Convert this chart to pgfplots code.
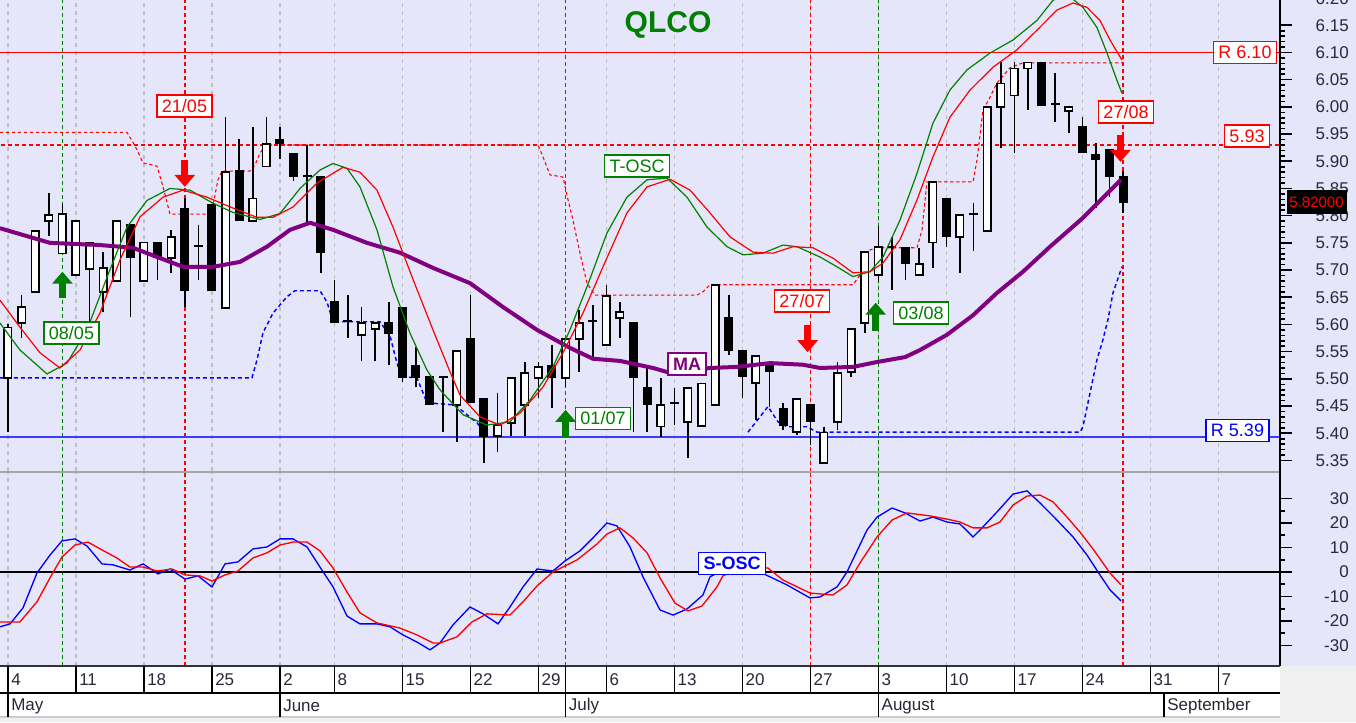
\documentclass[border=0pt]{standalone}
\usepackage{pgfplots}
\pgfplotsset{compat=1.18}
\usepackage{pgfplotstable}
\usepackage{fontspec}
\setmainfont{Liberation Sans}
\usetikzlibrary{arrows.meta}
\definecolor{bgl}{RGB}{230,230,250}
\definecolor{grn}{RGB}{0,128,0}
\definecolor{rd}{RGB}{255,0,0}
\definecolor{bl}{RGB}{0,0,255}
\definecolor{lbl}{RGB}{60,60,255}
\definecolor{pur}{RGB}{128,0,128}
\definecolor{gridg}{RGB}{190,190,190}
\definecolor{txt}{RGB}{40,40,55}
\definecolor{stripbg}{RGB}{240,240,240}
\newcommand{\fs}[1]{\fontsize{#1}{#1}\selectfont}
\newcommand{\pxy}[2]{(#1*0.75pt,-#2*0.75pt)}

% white (rising) candles: i open high low close
\pgfplotstableread{
i o h l c
0 5.502 5.600 5.402 5.594
1 5.603 5.654 5.575 5.632
2 5.660 5.772 5.660 5.772
3 5.790 5.842 5.763 5.801
4 5.731 5.821 5.731 5.803
5 5.691 5.790 5.691 5.790
6 5.702 5.751 5.605 5.751
7 5.660 5.733 5.623 5.704
8 5.680 5.790 5.680 5.790
10 5.680 5.751 5.680 5.751
12 5.722 5.774 5.695 5.761
16 5.630 5.981 5.630 5.880
18 5.790 5.963 5.790 5.832
19 5.890 5.981 5.890 5.932
26 5.581 5.632 5.533 5.603
27 5.592 5.603 5.533 5.603
33 5.452 5.551 5.384 5.551
36 5.395 5.474 5.366 5.415
37 5.419 5.502 5.395 5.502
38 5.452 5.531 5.395 5.511
39 5.502 5.531 5.465 5.522
41 5.502 5.573 5.485 5.573
42 5.573 5.627 5.513 5.603
44 5.562 5.673 5.562 5.652
45 5.612 5.641 5.575 5.623
48 5.412 5.502 5.393 5.452
50 5.421 5.483 5.355 5.483
51 5.413 5.492 5.413 5.492
52 5.452 5.673 5.452 5.673
55 5.492 5.542 5.424 5.542
58 5.402 5.463 5.397 5.463
60 5.345 5.412 5.345 5.401
61 5.421 5.531 5.406 5.511
62 5.513 5.592 5.504 5.592
63 5.603 5.733 5.584 5.733
64 5.691 5.781 5.678 5.743
67 5.691 5.741 5.691 5.711
68 5.751 5.862 5.704 5.862
70 5.761 5.801 5.695 5.801
72 5.772 6.000 5.772 6.000
73 6.000 6.082 5.925 6.043
74 6.021 6.082 5.916 6.071
75 6.071 6.082 5.994 6.082
78 5.992 6.000 5.952 6.000
}\wht

% black (falling) candles and dojis: i open high low close
\pgfplotstableread{
i o h l c
9 5.783 5.783 5.614 5.724
11 5.751 5.751 5.682 5.724
13 5.812 5.832 5.632 5.663
14 5.744 5.783 5.682 5.744
15 5.821 5.821 5.663 5.663
17 5.882 5.941 5.792 5.792
20 5.940 5.963 5.904 5.934
21 5.913 5.913 5.864 5.873
22 5.873 5.930 5.788 5.873
23 5.871 5.871 5.695 5.733
24 5.641 5.682 5.605 5.605
25 5.606 5.654 5.575 5.606
28 5.603 5.641 5.526 5.584
29 5.630 5.630 5.494 5.504
30 5.524 5.559 5.485 5.504
31 5.504 5.504 5.453 5.453
32 5.504 5.504 5.402 5.504
34 5.573 5.654 5.458 5.458
35 5.463 5.463 5.345 5.395
40 5.524 5.562 5.446 5.504
43 5.606 5.636 5.535 5.606
46 5.603 5.603 5.402 5.504
47 5.483 5.525 5.402 5.454
49 5.456 5.483 5.415 5.456
53 5.612 5.654 5.544 5.553
54 5.551 5.551 5.465 5.504
56 5.525 5.525 5.448 5.514
57 5.445 5.456 5.406 5.415
59 5.452 5.452 5.379 5.423
65 5.743 5.761 5.663 5.743
66 5.741 5.741 5.682 5.713
69 5.832 5.832 5.743 5.763
71 5.804 5.823 5.735 5.804
76 6.082 6.082 6.003 6.003
77 6.005 6.062 5.972 6.005
79 5.963 5.981 5.916 5.916
80 5.912 5.934 5.814 5.904
81 5.921 5.921 5.834 5.873
82 5.871 5.882 5.805 5.825
}\blk

\pgfplotsset{
  base/.style={
    scale only axis, width=960pt, anchor=north west,
    xmin=-0.588, xmax=93.53,
    axis line style={draw=none},
    xtick={0,5,10,15,20,24,29,34,39,44,49,54,59,64,69,74,79,84,89},
    xticklabels={}, x tick style={draw=none},
    xmajorgrids, major x grid style={gridg, line width=1pt, dash pattern=on 3pt off 3pt},
    ytick pos=right, yticklabel pos=right, tick align=outside,
    y tick style={black, line width=1.2pt},
    major tick length=9pt, minor tick length=3.75pt,
    yticklabel style={font=\fs{12.75pt}, text=txt, anchor=east, inner sep=0pt, xshift=42.75pt,
      /pgf/number format/assume math mode=true},
    clip mode=individual,
  },
  sig/.style={line width=1.1pt, dash pattern=on 3pt off 2.25pt},
}
\tikzset{lab/.style={draw=#1, text=#1, fill=white, line width=1.1pt, font=\fs{13.5pt}, inner xsep=3.75pt, inner ysep=0pt, minimum height=16.5pt}}

\begin{document}
\begin{tikzpicture}
\useasboundingbox (0,0) rectangle (1017pt,-541.5pt);
\clip (0,0) rectangle (1017pt,-541.5pt);
\fill[bgl] (0,0) rectangle (1017pt,-541.5pt);
\fill[stripbg] \pxy{0}{666} rectangle \pxy{1356}{722};

% ===== main price panel =====
\begin{axis}[base, at={(0pt,0pt)}, height=353.25pt,
  ymin=5.3306, ymax=6.1965,
  ytick={5.35,5.40,5.45,5.50,5.55,5.60,5.65,5.70,5.75,5.80,5.85,5.90,5.95,6.00,6.05,6.10,6.15},
  minor y tick num=4,
  yticklabel style={/pgf/number format/fixed, /pgf/number format/fixed zerofill, /pgf/number format/precision=2}]
% signal verticals
\addplot[grn, sig] coordinates {(4,5.2) (4,6.3)};
\addplot[grn, sig] coordinates {(41,5.2) (41,6.3)};
\addplot[grn, sig] coordinates {(64,5.2) (64,6.3)};
\addplot[rd, sig] coordinates {(13,5.2) (13,6.3)};
\addplot[rd, sig] coordinates {(59,5.2) (59,6.3)};
\addplot[rd, sig] coordinates {(82,5.2) (82,6.3)};
% levels
\addplot[rd, line width=1.1pt] coordinates {(-1,6.10) (95,6.10)};
\addplot[rd, line width=1.1pt, dash pattern=on 3pt off 2.25pt] coordinates {(-1,5.93) (95,5.93)};
\addplot[lbl, line width=1.5pt] coordinates {(-1,5.393) (95,5.393)};
% upper trailing stop (red dashed)
\addplot[rd, line width=0.8pt, dash pattern=on 2.5pt off 2pt] coordinates {
(-0.6,5.953) (8.75,5.953) (9.19,5.935) (9.49,5.921) (9.93,5.897) (10.96,5.891) (11.40,5.853) (11.91,5.803)
(14.85,5.803) (15.15,5.829) (15.44,5.866) (15.74,5.882) (17.79,5.882) (18.16,5.893) (18.53,5.915) (18.97,5.930)
(38.97,5.930) (39.34,5.908) (39.85,5.875) (40.81,5.871) (41.18,5.829) (41.54,5.792) (42.06,5.731) (42.57,5.676)
(43.16,5.654) (50.66,5.654) (51.10,5.660) (51.62,5.673) (62.13,5.673) (62.65,5.691) (63.38,5.737) (63.90,5.741)
(66.84,5.741) (67.21,5.774) (67.57,5.862) (70.96,5.862) (71.25,5.902) (71.69,5.994) (72.21,6.018) (72.72,6.044)
(73.68,6.072) (74.63,6.081) (81.91,6.081)};
% lower trailing stop (blue dashed)
\addplot[bl, line width=1.1pt, dash pattern=on 3pt off 2.25pt] coordinates {
(-0.6,5.502) (17.94,5.502) (18.31,5.535) (18.75,5.585) (19.49,5.621) (20.51,5.651) (21.10,5.662) (22.94,5.662)
(23.46,5.641) (23.90,5.605) (27.35,5.605) (28.09,5.579) (28.60,5.529) (28.97,5.504) (30.07,5.502) (30.81,5.456)
(32.87,5.452) (34.49,5.419) (35.22,5.397)};
\addplot[bl, line width=1.1pt, dash pattern=on 3pt off 2.25pt] coordinates {
(54.41,5.402) (55.88,5.449) (56.62,5.421) (57.28,5.412) (58.75,5.412) (59.49,5.402) (78.82,5.402) (79.04,5.412)
(79.56,5.474) (80.07,5.535) (80.51,5.572) (80.88,5.609) (81.25,5.658) (81.91,5.706)};
% candles: wicks
\addplot[draw=none, mark=none, forget plot, error bars/.cd, y dir=both, y explicit, error mark=none,
  error bar style={draw=black, line width=1.2pt}]
  table[x=i, y expr={(\thisrow{h}+\thisrow{l})/2}, y error expr={(\thisrow{h}-\thisrow{l})/2}] {\wht};
\addplot[draw=none, mark=none, forget plot, error bars/.cd, y dir=both, y explicit, error mark=none,
  error bar style={draw=black, line width=1.2pt}]
  table[x=i, y expr={(\thisrow{h}+\thisrow{l})/2}, y error expr={(\thisrow{h}-\thisrow{l})/2}] {\blk};
% candles: bodies
\addplot[draw=none, mark=none, forget plot, error bars/.cd, y dir=both, y explicit, error mark=none,
  error bar style={draw=black, line width=6.75pt}]
  table[x=i, y expr={(\thisrow{o}+\thisrow{c})/2}, y error expr={abs(\thisrow{c}-\thisrow{o})/2+0.0014}] {\blk};
\addplot[draw=none, mark=none, forget plot, error bars/.cd, y dir=both, y explicit, error mark=none,
  error bar style={draw=black, line width=6.75pt}]
  table[x=i, y expr={(\thisrow{o}+\thisrow{c})/2}, y error expr={abs(\thisrow{c}-\thisrow{o})/2+0.0014}] {\wht};
\addplot[draw=none, mark=none, forget plot, error bars/.cd, y dir=both, y explicit, error mark=none,
  error bar style={draw=white, line width=4.5pt}]
  table[x=i, y expr={(\thisrow{o}+\thisrow{c})/2}, y error expr={max(abs(\thisrow{c}-\thisrow{o})/2-0.0014,0)}] {\wht};
% MA
\addplot[pur, line width=3pt, line join=round] coordinates {
(-0.6,5.777) (3.09,5.750) (6.76,5.746) (9.19,5.741) (11.18,5.722) (12.87,5.706) (15.07,5.706) (17.06,5.715)
(19.04,5.743) (20.74,5.774) (22.21,5.787) (23.90,5.774) (26.40,5.750) (28.82,5.732) (31.25,5.704) (33.97,5.676)
(36.40,5.632) (38.90,5.590) (41.32,5.557) (43.01,5.537) (45.0,5.533) (47.43,5.520) (48.68,5.511) (51.62,5.520)
(53.60,5.522) (56.03,5.529) (58.46,5.526) (59.71,5.520) (62.13,5.522) (63.90,5.531) (65.96,5.540) (67.06,5.553)
(69.04,5.581) (70.96,5.617) (72.72,5.658) (74.63,5.697) (76.62,5.743) (79.04,5.796) (81.84,5.866)};
% T-OSC green (fast)
\addplot[grn, line width=0.9pt] coordinates {
(-0.6,5.603) (0.88,5.553) (2.87,5.509) (4.34,5.529) (5.81,5.590) (7.28,5.687) (8.75,5.779) (10.22,5.828)
(11.91,5.850) (13.38,5.847) (15.07,5.823) (16.54,5.806) (18.53,5.793) (20.0,5.804) (21.47,5.850) (22.94,5.884)
(23.90,5.896) (24.93,5.887) (25.88,5.853) (27.13,5.774) (28.31,5.669) (29.56,5.584) (30.81,5.516) (31.76,5.480)
(33.46,5.434) (35.22,5.415) (36.91,5.421) (38.38,5.461) (40.07,5.522) (41.32,5.590) (42.57,5.669) (44.04,5.768)
(45.51,5.834) (46.99,5.866) (48.46,5.869) (49.93,5.834) (51.40,5.779) (52.87,5.743) (54.04,5.728) (55.51,5.731)
(56.99,5.746) (58.01,5.743) (59.71,5.724) (60.96,5.706) (62.13,5.688) (63.38,5.697) (64.34,5.724) (65.59,5.792)
(66.84,5.878) (68.01,5.970) (69.26,6.031) (70.51,6.068) (72.21,6.099) (73.90,6.123) (75.66,6.159) (76.84,6.196)
(77.87,6.207) (79.04,6.183) (80.07,6.146) (80.81,6.099) (81.54,6.049) (81.91,6.025)};
% T-OSC red (slow)
\addplot[rd, line width=0.9pt] coordinates {
(-0.6,5.645) (0.88,5.595) (2.35,5.548) (3.82,5.520) (5.29,5.553) (6.76,5.621) (8.24,5.719) (9.71,5.798)
(11.40,5.834) (12.87,5.847) (14.63,5.834) (16.54,5.814) (18.31,5.797) (19.49,5.797) (20.96,5.816) (22.72,5.860)
(24.63,5.889) (25.88,5.880) (27.13,5.847) (28.31,5.779) (29.78,5.683) (31.25,5.590) (32.50,5.513) (33.24,5.470)
(34.71,5.430) (36.18,5.415) (37.65,5.437) (39.34,5.485) (40.81,5.548) (42.28,5.621) (43.75,5.706) (45.51,5.805)
(46.99,5.853) (48.68,5.867) (50.15,5.847) (51.62,5.805) (53.09,5.761) (54.78,5.733) (56.25,5.731) (57.72,5.743)
(59.19,5.741) (60.66,5.722) (62.13,5.695) (63.38,5.697) (64.34,5.713) (65.59,5.756) (66.84,5.829) (68.01,5.908)
(69.26,5.981) (70.74,6.031) (72.43,6.073) (74.19,6.105) (75.66,6.141) (77.13,6.178) (78.31,6.191) (79.34,6.183)
(80.29,6.159) (81.03,6.123) (81.91,6.086)};
% signal arrows
\addplot[grn, line width=5.25pt, -{Triangle[width=15pt,length=9pt]}] coordinates {(4,5.649) (4,5.697)};
\addplot[grn, line width=5.25pt, -{Triangle[width=15pt,length=9pt]}] coordinates {(41,5.393) (41,5.443)};
\addplot[grn, line width=5.25pt, -{Triangle[width=15pt,length=9pt]}] coordinates {(63.8,5.588) (63.8,5.640)};
\addplot[rd, line width=5.25pt, -{Triangle[width=15pt,length=9pt]}] coordinates {(13,5.902) (13,5.853)};
\addplot[rd, line width=5.25pt, -{Triangle[width=15pt,length=9pt]}] coordinates {(58.8,5.599) (58.8,5.549)};
\addplot[rd, line width=5.25pt, -{Triangle[width=15pt,length=9pt]}] coordinates {(81.8,5.948) (81.8,5.899)};
\end{axis}

% separator between panels
\draw[gray!70, line width=1.8pt] \pxy{0}{472} -- \pxy{1280}{472};

% ===== oscillator panel =====
\begin{axis}[base, at={(0pt,-354.75pt)}, height=144.75pt,
  ymin=-38.4, ymax=40.4, ytick={-30,-20,-10,0,10,20,30}, minor y tick num=1]
\addplot[grn, sig] coordinates {(4,-50) (4,50)};
\addplot[grn, sig] coordinates {(41,-50) (41,50)};
\addplot[grn, sig] coordinates {(64,-50) (64,50)};
\addplot[rd, sig] coordinates {(13,-50) (13,50)};
\addplot[rd, sig] coordinates {(59,-50) (59,50)};
\addplot[rd, sig] coordinates {(82,-50) (82,50)};
\addplot[black, line width=1.1pt] coordinates {(-1,0) (95,0)};
\addplot[bl, line width=1pt] coordinates {
(-0.6,-22.4) (0.15,-21.2) (1.10,-14.7) (2.13,-0.4) (3.09,6.9) (3.97,12.7) (4.93,13.5) (5.81,10.6) (6.91,3.3)
(7.72,2.9) (8.97,0.8) (9.93,3.3) (11.03,-0.8) (11.91,1.2) (13.01,-2.9) (13.97,-1.6) (15.0,-6.1) (15.96,3.3)
(16.91,4.1) (18.01,9.4) (19.04,10.2) (20.0,13.5) (20.96,13.5) (21.99,10.2) (22.94,2.0) (23.90,-6.1) (24.93,-18.0)
(25.88,-21.2) (27.13,-21.2) (28.09,-22.4) (29.04,-25.7) (30.07,-28.6) (31.03,-31.8) (31.76,-29.0) (32.72,-21.6)
(33.97,-14.3) (34.93,-17.1) (36.03,-21.2) (36.91,-14.3) (37.87,-6.1) (38.90,1.2) (40.07,0.4) (40.96,4.5)
(42.06,8.6) (43.01,13.9) (44.04,20.0) (44.78,18.8) (45.74,10.2) (46.69,-2.0) (47.94,-15.5) (48.90,-17.6)
(49.93,-15.1) (51.10,-9.4) (51.62,-2.0) (53.09,2.4) (55.29,0) (55.88,-1.6) (57.28,-5.3) (58.97,-10.6)
(59.71,-10.2) (60.96,-6.1) (61.69,0) (63.16,17.1) (63.90,22.4) (65.0,26.1) (65.96,24.1) (67.06,20.8)
(68.01,22.4) (69.04,20.4) (70.0,19.6) (70.96,14.3) (71.47,17.1) (72.72,24.5) (73.90,31.8) (74.93,33.1)
(75.88,28.2) (77.13,21.2) (78.31,14.3) (79.34,6.9) (80.29,-1.2) (81.03,-7.3) (81.84,-11.8)};
\addplot[rd, line width=1pt] coordinates {
(-0.6,-20.4) (0.88,-20.4) (2.13,-12.2) (3.09,-2.4) (3.97,6.1) (4.93,11.0) (5.88,12.2) (6.91,9.0) (8.01,5.7)
(8.97,2.0) (9.93,2.0) (10.96,0.4) (12.06,1.2) (13.01,-1.2) (14.12,-1.6) (15.0,-3.7) (15.96,-1.2) (16.91,0.4)
(18.01,5.7) (19.04,7.8) (20.0,11.0) (20.96,12.2) (21.99,12.2) (22.94,8.6) (23.90,1.6) (24.93,-8.2) (25.88,-16.7)
(27.13,-20.8) (28.82,-22.9) (30.07,-25.7) (31.25,-29.0) (31.76,-29.0) (33.01,-26.5) (34.12,-20.4) (35.22,-17.1)
(36.91,-17.6) (37.87,-12.2) (38.90,-5.7) (40.07,0) (41.84,4.9) (43.31,11.4) (44.04,15.5) (45.0,18.0)
(45.96,13.9) (46.99,7.8) (47.94,-2.4) (49.04,-12.7) (50.0,-15.9) (51.03,-13.9) (52.13,-6.1) (52.57,-1.6)
(54.19,2.4) (55.88,1.6) (56.99,-3.3) (58.97,-8.6) (60.66,-9.4) (61.69,-5.3) (62.65,3.7) (63.90,14.3)
(65.0,21.2) (66.10,24.1) (67.79,22.9) (69.04,21.6) (70.0,20.4) (70.96,18.0) (71.99,18.0) (72.94,20.4)
(73.90,27.3) (74.93,31.0) (75.88,31.4) (76.84,28.6) (77.87,22.4) (78.82,16.3) (79.78,9.4) (81.03,-0.4)
(81.84,-5.3)};
\end{axis}

% right axis line
\draw[black, line width=1.5pt] \pxy{1280}{0} -- \pxy{1280}{666};
\node[anchor=east, inner sep=0pt, font=\fs{12.75pt}, text=txt] at \pxy{1349}{-1} {6.20};

% ===== date strip =====
\fill[white] \pxy{0}{666} rectangle \pxy{1280}{717};
\draw[black!80, line width=1.5pt] \pxy{0}{666} -- \pxy{1280}{666};
\draw[black, line width=1.1pt] \pxy{0}{693} -- \pxy{1280}{693};
\draw[gray!40, line width=1pt] \pxy{0}{717} -- \pxy{1280}{717};
\foreach \i/\lab in {0/4,5/11,10/18,15/25,20/2,24/8,29/15,34/22,39/29,41/,44/6,49/13,54/20,59/27,64/3,69/10,74/17,79/24,84/31,89/7}{
  \draw[black, line width=1.1pt] ({(8+13.6*\i)*0.75pt},-666*0.75pt) -- ++(0,-27*0.75pt);
  \node[anchor=west, inner sep=0pt, font=\fs{12.75pt}, text=txt] at ({(11+13.6*\i)*0.75pt},-680*0.75pt) {\lab};
}
\foreach \i/\lab in {0/May,20/June,41/July,64/August,85/September}{
  \draw[black, line width=1.1pt] ({(8+13.6*\i)*0.75pt},-693*0.75pt) -- ++(0,-24*0.75pt);
  \node[anchor=west, inner sep=0pt, font=\fs{12.75pt}, text=txt] at ({(11+13.6*\i)*0.75pt},-706*0.75pt) {\lab};
}

% ===== labels =====
\node[text=grn, font=\fs{22.5pt}\bfseries] at \pxy{668}{25} {QLCO};
\node[lab=rd] at \pxy{184.5}{106} {21/05};
\node[lab=grn] at \pxy{71.5}{333} {08/05};
\node[lab=grn] at \pxy{637}{166} {T-OSC};
\node[lab=grn] at \pxy{603}{418.5} {01/07};
\node[lab=pur, font=\fs{13.5pt}\bfseries] at \pxy{687}{364} {MA};
\node[lab=rd] at \pxy{802}{301} {27/07};
\node[lab=grn] at \pxy{921}{313} {03/08};
\node[lab=rd] at \pxy{1126}{112} {27/08};
\node[lab=rd] at \pxy{1245}{52.5} {R 6.10};
\node[lab=rd] at \pxy{1247}{136} {5.93};
\node[lab=bl] at \pxy{1237.5}{430.5} {R 5.39};
\node[lab=bl, font=\fs{13.5pt}\bfseries] at \pxy{732}{563.5} {S-OSC};
\node[fill=black, text=rd, font=\fs{11.25pt}, inner xsep=2pt, inner ysep=0pt, minimum height=18pt, minimum width=45pt] at \pxy{1316.5}{202} {5.82000};
\end{tikzpicture}
\end{document}
